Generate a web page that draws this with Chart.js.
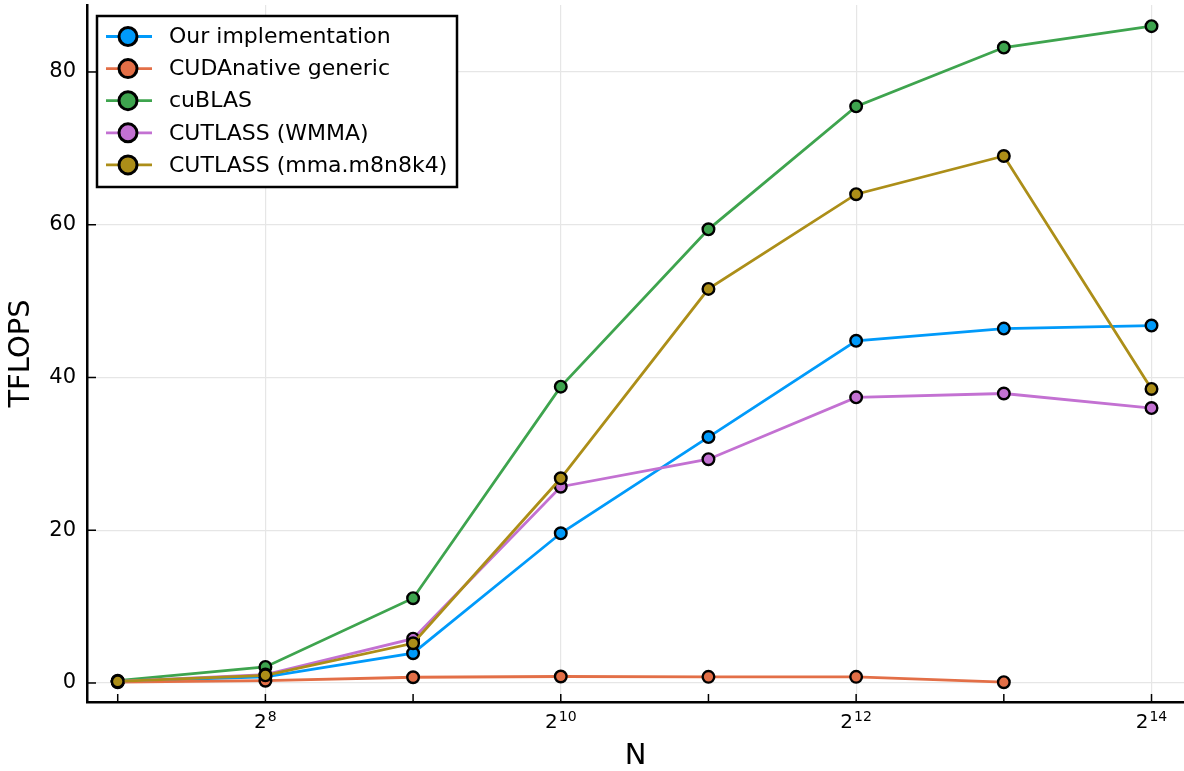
<!DOCTYPE html>
<html>
<head>
<meta charset="utf-8">
<script src="https://cdn.jsdelivr.net/npm/chart.js@4"></script>
<style>
  html, body { margin: 0; padding: 0; background: #fff; }
  #wrap { width: 1184px; height: 771px; }
</style>
</head>
<body>
<div id="wrap"><canvas id="myChart" width="1184" height="771"></canvas></div>
<script>
// matrix size N and throughput (TFLOPS)
let sizes = [128, 256, 512, 1024, 2048, 4096, 8192, 16384];
let ours = [0.2, 0.8, 3.9, 19.6, 32.2, 44.8, 46.4, 46.8];
let cudanative = [0.1, 0.3, 0.75, 0.85, 0.8, 0.8, 0.1, null];
let cublas = [0.3, 2.1, 11.1, 38.8, 59.4, 75.5, 83.2, 86.0];
let cutlassWmma = [0.2, 1.1, 5.8, 25.7, 29.3, 37.4, 37.9, 36.0];
let cutlassMma = [0.2, 1.0, 5.2, 26.8, 51.6, 64.0, 69.0, 38.5];

let seriesNames = ['Our implementation', 'CUDAnative generic', 'cuBLAS', 'CUTLASS (WMMA)', 'CUTLASS (mma.m8n8k4)'];
let seriesColors = ['#009AFA', '#E36F47', '#3EA44E', '#C371D2', '#AC8E18'];
let yTicks = [0, 20, 40, 60, 80];

const FONT = "'DejaVu Sans', sans-serif";
let allSeries = [ours, cudanative, cublas, cutlassWmma, cutlassMma];

var datasets = allSeries.map((vals, i) => ({
  label: seriesNames[i],
  data: sizes.map((n, j) => ({x: n, y: vals[j]})),
  borderColor: seriesColors[i],
  backgroundColor: seriesColors[i],
  pointBackgroundColor: seriesColors[i],
  pointBorderColor: '#000',
  pointBorderWidth: 2.4,
  pointRadius: 5.8,
  borderWidth: 2.8,
  tension: 0,
  clip: false,
  order: 5 - i,
}));

function log2(v) { return Math.round(Math.log(v) / Math.LN2); }

function noPadding(scale) {
  scale.paddingLeft = 0; scale.paddingRight = 0;
  scale.paddingTop = 0; scale.paddingBottom = 0;
}

// legend box, superscript tick labels and inward tick marks
const extras = {
  id: 'extras',
  afterDraw(chart) {
    const ctx = chart.ctx;
    const xs = chart.scales.x, ys = chart.scales.y;
    const area = chart.chartArea;
    ctx.save();
    ctx.strokeStyle = '#000';
    ctx.lineWidth = 1.5;
    yTicks.forEach(v => {
      const py = ys.getPixelForValue(v);
      ctx.beginPath(); ctx.moveTo(area.left, py); ctx.lineTo(area.left + 9, py); ctx.stroke();
    });
    sizes.forEach(n => {
      const px = xs.getPixelForValue(n);
      ctx.beginPath(); ctx.moveTo(px, area.bottom); ctx.lineTo(px, area.bottom - 8); ctx.stroke();
    });
    // x tick labels 2^k
    ctx.fillStyle = '#000';
    ctx.textBaseline = 'alphabetic';
    sizes.forEach(n => {
      const k = log2(n);
      if (k % 2) return;
      const px = xs.getPixelForValue(n);
      ctx.font = '20px ' + FONT;
      const wb = ctx.measureText('2').width;
      ctx.font = '14px ' + FONT;
      const we = ctx.measureText(String(k)).width;
      const x0 = px - (wb + we + 1) / 2;
      ctx.font = '20px ' + FONT;
      ctx.textAlign = 'left';
      ctx.fillText('2', x0, 727.5);
      ctx.font = '14px ' + FONT;
      ctx.fillText(String(k), x0 + wb + 1, 720.5);
    });
    // legend
    const bx = 97, by = 16, bw = 360, bh = 171;
    ctx.fillStyle = '#fff';
    ctx.fillRect(bx, by, bw, bh);
    ctx.lineWidth = 2.5;
    ctx.strokeStyle = '#000';
    ctx.strokeRect(bx, by, bw, bh);
    ctx.font = '22px ' + FONT;
    ctx.textBaseline = 'middle';
    seriesNames.forEach((name, i) => {
      const cy = 36.5 + i * 32.1;
      ctx.strokeStyle = seriesColors[i];
      ctx.lineWidth = 2.8;
      ctx.beginPath(); ctx.moveTo(106, cy); ctx.lineTo(152, cy); ctx.stroke();
      ctx.beginPath(); ctx.arc(128, cy, 9, 0, Math.PI * 2);
      ctx.fillStyle = seriesColors[i]; ctx.fill();
      ctx.lineWidth = 3; ctx.strokeStyle = '#000'; ctx.stroke();
      ctx.fillStyle = '#000';
      ctx.fillText(name, 169, cy + 1);
    });
    ctx.restore();
  }
};

const config = {
  type: 'line',
  data: {datasets: datasets},
  options: {
    responsive: false,
    animation: false,
    layout: {autoPadding: false, padding: {top: 5, right: 0, left: 0, bottom: 0}},
    plugins: {legend: {display: false}, tooltip: {enabled: false}},
    scales: {
      x: {
        type: 'logarithmic',
        min: Math.pow(2, 6.792),
        max: Math.pow(2, 14.22),
        afterBuildTicks: scale => { scale.ticks = sizes.map(v => ({value: v})); },
        afterFit: scale => { scale.height = 69; noPadding(scale); },
        grid: {
          drawTicks: false,
          color: c => (c.tick && log2(c.tick.value) % 2 === 0) ? '#e6e6e6' : 'rgba(0,0,0,0)',
          lineWidth: 1.2,
        },
        border: {display: true, color: '#000', width: 2.5},
        ticks: {display: false},
        title: {display: true, text: 'N', color: '#000', font: {family: FONT, size: 29, lineHeight: 1}, padding: {top: 0, bottom: 0.5}},
      },
      y: {
        type: 'linear',
        min: -2.49,
        max: 88.77,
        afterBuildTicks: scale => { scale.ticks = yTicks.map(v => ({value: v})); },
        afterFit: scale => { scale.width = 87; noPadding(scale); },
        grid: {drawTicks: false, color: '#e6e6e6', lineWidth: 1.2},
        border: {display: true, color: '#000', width: 2.5},
        ticks: {padding: 11, color: '#000', font: {family: FONT, size: 21}},
        title: {display: true, text: 'TFLOPS', color: '#000', font: {family: FONT, size: 29, lineHeight: 1}, padding: {top: 6.5, bottom: 0}},
      }
    }
  },
  plugins: [extras]
};

var ctx = document.getElementById('myChart');
var mychart = new Chart(ctx, config);
</script>
</body>
</html>
